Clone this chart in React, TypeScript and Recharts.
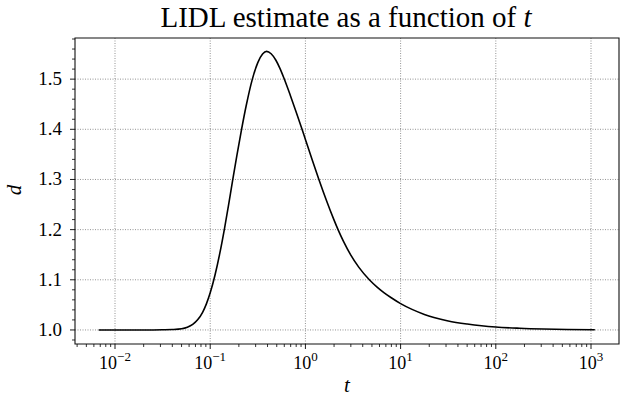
import React from "react"
import { LineChart, Line, XAxis, YAxis, CartesianGrid, ReferenceArea } from "recharts"

// t values (log axis) and the LIDL estimate d
const tValues = [
  0.00674, 0.01, 0.02, 0.0316, 0.0398, 0.0501, 0.0575, 0.0655, 0.0741, 0.0832, 0.0912,
  0.1, 0.1122, 0.1259, 0.1413, 0.1549, 0.1698, 0.1905, 0.2128, 0.2399, 0.2754, 0.3162,
  0.3548, 0.3908, 0.4365, 0.4898, 0.537, 0.5943, 0.6918, 0.7943, 0.9333, 1.0, 1.175,
  1.38, 1.66, 1.986, 2.208, 2.512, 2.979, 3.631, 4.721, 5.623, 6.668, 8.128, 10,
  13.18, 17.78, 22.39, 31.62, 50.12, 70.79, 100, 177.8, 316.2, 562.3, 1097,
]
const dValues = [
  1.0, 1.0, 1.0, 1.0004, 1.0009, 1.0024, 1.0054, 1.011, 1.0207, 1.0352, 1.052,
  1.074, 1.109, 1.152, 1.202, 1.246, 1.2916, 1.3476, 1.3985, 1.4489, 1.4981, 1.5329,
  1.5499, 1.5554, 1.5506, 1.5376, 1.5224, 1.5022, 1.4685, 1.4361, 1.3969, 1.3798, 1.3399,
  1.301, 1.2586, 1.2204, 1.1995, 1.1765, 1.1502, 1.1253, 1.0996, 1.0859, 1.0744, 1.0632, 1.0525,
  1.041, 1.031, 1.025, 1.018, 1.0118, 1.0083, 1.0058, 1.0034, 1.0019, 1.001, 1.0004,
]

const xMajorTicks = [0.01, 0.1, 1, 10, 100, 1000]
const xMajorExponents = ["\u22122", "\u22121", "0", "1", "2", "3"]
const xMinorMultipliers = [2, 3, 4, 5, 6, 7, 8, 9]
const xMinorDecades = [0.001, 0.01, 0.1, 1, 10, 100]
const yMajorTicks = [1.0, 1.1, 1.2, 1.3, 1.4, 1.5]
const yMajorLabels = ["1.0", "1.1", "1.2", "1.3", "1.4", "1.5"]
const yMinorTicks = [0.98, 1.02, 1.04, 1.06, 1.08, 1.12, 1.14, 1.16, 1.18, 1.22, 1.24, 1.26, 1.28,
  1.32, 1.34, 1.36, 1.38, 1.42, 1.44, 1.46, 1.48, 1.52, 1.54, 1.56, 1.58]

const X_DOMAIN: [number, number] = [0.0038, 1968]
const Y_DOMAIN: [number, number] = [0.972, 1.582]

const data = tValues.map((t, i) => ({ t, d: dValues[i] }))
const xMinorTicks = xMinorDecades
  .flatMap((dec) => xMinorMultipliers.map((m) => +(dec * m).toPrecision(3)))
  .filter((v) => v > X_DOMAIN[0] && v < X_DOMAIN[1])

const FONT = "'Liberation Serif', 'DejaVu Serif', serif"

function XTick(props: any) {
  const { x, y, payload } = props
  const idx = xMajorTicks.indexOf(payload.value)
  if (idx < 0) {
    return <line x1={x} x2={x} y1={y} y2={y + 3} stroke="#000" strokeWidth={0.8} />
  }
  return (
    <g>
      <line x1={x} x2={x} y1={y} y2={y + 5} stroke="#000" strokeWidth={0.9} />
      <text x={x} y={y + 25} textAnchor="middle" fontFamily={FONT} fontSize={18} fill="#000">
        <tspan>10</tspan>
        <tspan dy={-8} fontSize={13}>{xMajorExponents[idx]}</tspan>
      </text>
    </g>
  )
}

function YTick(props: any) {
  const { x, y, payload } = props
  const idx = yMajorTicks.indexOf(payload.value)
  if (idx < 0) {
    return <line x1={x} x2={x - 3} y1={y} y2={y} stroke="#000" strokeWidth={0.8} />
  }
  return (
    <g>
      <line x1={x} x2={x - 5} y1={y} y2={y} stroke="#000" strokeWidth={0.9} />
      <text x={x - 13} y={y + 6} textAnchor="end" fontFamily={FONT} fontSize={19} fill="#000">
        {yMajorLabels[idx]}
      </text>
    </g>
  )
}

export default function App() {
  return (
    <div style={{ position: "absolute", left: 0, top: 0, width: 635, height: 397, background: "#fff" }}>
      <LineChart width={635} height={397} data={data} margin={{ top: 38, right: 16, bottom: 0, left: 0 }}>
        <CartesianGrid
          verticalValues={xMajorTicks}
          horizontalValues={yMajorTicks}
          stroke="#777"
          strokeDasharray="1 1.5"
          strokeWidth={0.8}
        />
        <XAxis
          dataKey="t"
          type="number"
          scale="log"
          domain={X_DOMAIN}
          allowDataOverflow
          ticks={[...xMajorTicks, ...xMinorTicks]}
          interval={0}
          tickSize={0}
          tickMargin={0}
          tickLine={false}
          axisLine={false}
          height={53}
          tick={<XTick />}
        />
        <YAxis
          type="number"
          domain={Y_DOMAIN}
          allowDataOverflow
          ticks={[...yMajorTicks, ...yMinorTicks]}
          interval={0}
          tickSize={0}
          tickMargin={0}
          tickLine={false}
          axisLine={false}
          width={75}
          tick={<YTick />}
        />
        <Line
          type="monotone"
          dataKey="d"
          stroke="#000"
          strokeWidth={1.6}
          dot={false}
          isAnimationActive={false}
        />
        <ReferenceArea
          x1={X_DOMAIN[0]}
          x2={X_DOMAIN[1]}
          y1={Y_DOMAIN[0]}
          y2={Y_DOMAIN[1]}
          fill="none"
          stroke="#111"
          strokeWidth={1.1}
          ifOverflow="visible"
        />
      </LineChart>
      <svg width={635} height={397} style={{ position: "absolute", left: 0, top: 0, pointerEvents: "none" }}>
        <text x={346} y={27} textAnchor="middle" fontFamily={FONT} fontSize={29} fill="#000">
          LIDL estimate as a function of <tspan fontStyle="italic">t</tspan>
        </text>
        <text x={347} y={392} textAnchor="middle" fontFamily={FONT} fontSize={21} fontStyle="italic" fill="#000">
          t
        </text>
        <text x={21} y={190} textAnchor="middle" fontFamily={FONT} fontSize={21} fontStyle="italic" fill="#000" transform="rotate(-90 21 190)">
          d
        </text>
      </svg>
    </div>
  )
}
